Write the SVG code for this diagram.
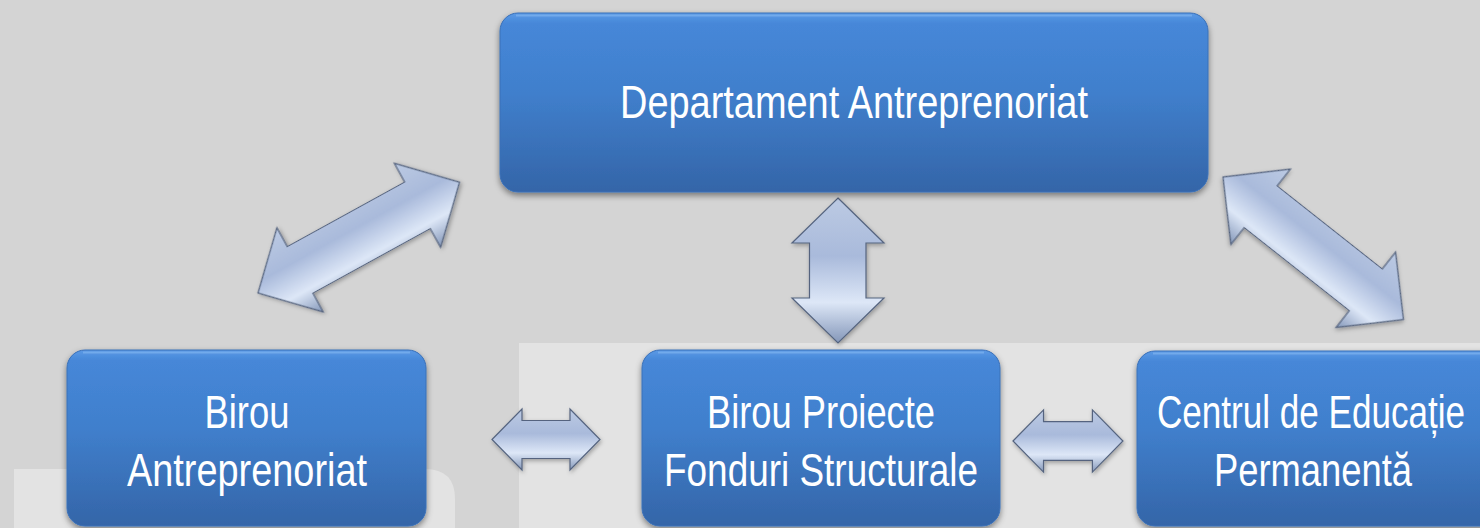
<svg xmlns="http://www.w3.org/2000/svg" width="1480" height="528" viewBox="0 0 1480 528">
  <defs>
    <linearGradient id="boxFill" x1="0" y1="0" x2="0" y2="1">
      <stop offset="0" stop-color="#5b9ae6"/>
      <stop offset="0.06" stop-color="#4687d8"/>
      <stop offset="0.45" stop-color="#407fcc"/>
      <stop offset="1" stop-color="#3465a8"/>
    </linearGradient>
    <linearGradient id="arrowFill" x1="0" y1="0" x2="0" y2="1">
      <stop offset="0" stop-color="#bccae3"/>
      <stop offset="0.4" stop-color="#a9badb"/>
      <stop offset="0.72" stop-color="#dde7f7"/>
      <stop offset="1" stop-color="#8497b9"/>
    </linearGradient>
    <filter id="boxShadow" x="-10%" y="-10%" width="120%" height="130%">
      <feDropShadow dx="0" dy="3" stdDeviation="3" flood-color="#000" flood-opacity="0.45"/>
    </filter>
    <filter id="arrowShadow" x="-20%" y="-20%" width="140%" height="140%">
      <feDropShadow dx="1" dy="2" stdDeviation="2" flood-color="#000" flood-opacity="0.3"/>
    </filter>
    <polygon id="hArrow" points="0,0 30,-30.5 30,-19 78,-19 78,-30.5 108,0 78,30.5 78,19 30,19 30,30.5"/>
    <polygon id="dArrow" points="0,0 48,-48 48,-26.5 182,-26.5 182,-48 230,0 182,48 182,26.5 48,26.5 48,48"/>
  </defs>
  <style>
    .box { fill: url(#boxFill); stroke: #3a70b8; stroke-width: 1; filter: url(#boxShadow); }
    .hl { fill: none; stroke: #7fb3f0; stroke-width: 2; opacity: 0.7; }
    .label { font-family: "Liberation Sans Narrow", "Liberation Sans", "Open Sans", sans-serif; font-size: 47px; fill: #ffffff; text-anchor: middle; }
    .arrow { fill: url(#arrowFill); stroke: #55647f; stroke-width: 1.2; stroke-linejoin: miter; filter: url(#arrowShadow); }
  </style>

  <!-- background -->
  <rect x="0" y="0" width="1480" height="528" fill="#d4d4d4"/>
  <rect x="519" y="343" width="961" height="185" fill="#e3e3e3"/>
  <path d="M14,528 V469 H425 Q455,469 455,499 V528 Z" fill="#e3e3e3"/>

  <!-- connectors -->
  <g id="connectors">
    <use href="#dArrow" class="arrow" transform="translate(258,293) rotate(-28.8)"/>
    <use href="#dArrow" class="arrow" transform="translate(1223,177) rotate(38.3)"/>
    <polygon class="arrow" points="838,198 884,243 866,243 866,298 884,298 838,343 792,298 809.5,298 809.5,243 792,243"/>
    <use href="#hArrow" class="arrow" transform="translate(492,439.5)"/>
    <use href="#hArrow" class="arrow" transform="translate(1013,441) scale(1.018,1.02)"/>
  </g>

  <!-- nodes -->
  <g id="node-departament">
    <rect class="box" x="500" y="13" width="708" height="179" rx="18" ry="18"/>
    <path class="hl" d="M516,15.5 H1192"/>
    <text class="label" x="854" y="118" textLength="468" lengthAdjust="spacingAndGlyphs">Departament Antreprenoriat</text>
  </g>

  <g id="node-birou-antreprenoriat">
    <rect class="box" x="67" y="350" width="359" height="176" rx="18" ry="18"/>
    <path class="hl" d="M83,352.5 H410"/>
    <text class="label" x="247" y="428" textLength="85" lengthAdjust="spacingAndGlyphs">Birou</text>
    <text class="label" x="247" y="486" textLength="240" lengthAdjust="spacingAndGlyphs">Antreprenoriat</text>
  </g>

  <g id="node-birou-proiecte">
    <rect class="box" x="642" y="350" width="358" height="176" rx="18" ry="18"/>
    <path class="hl" d="M658,352.5 H984"/>
    <text class="label" x="821" y="428" textLength="228" lengthAdjust="spacingAndGlyphs">Birou Proiecte</text>
    <text class="label" x="821" y="486" textLength="314" lengthAdjust="spacingAndGlyphs">Fonduri Structurale</text>
  </g>

  <g id="node-centrul">
    <rect class="box" x="1137" y="351" width="370" height="175" rx="18" ry="18"/>
    <path class="hl" d="M1153,353.5 H1490"/>
    <text class="label" x="1311" y="428" textLength="308" lengthAdjust="spacingAndGlyphs">Centrul de Educație</text>
    <text class="label" x="1313" y="486" textLength="198" lengthAdjust="spacingAndGlyphs">Permanentă</text>
  </g>
</svg>
